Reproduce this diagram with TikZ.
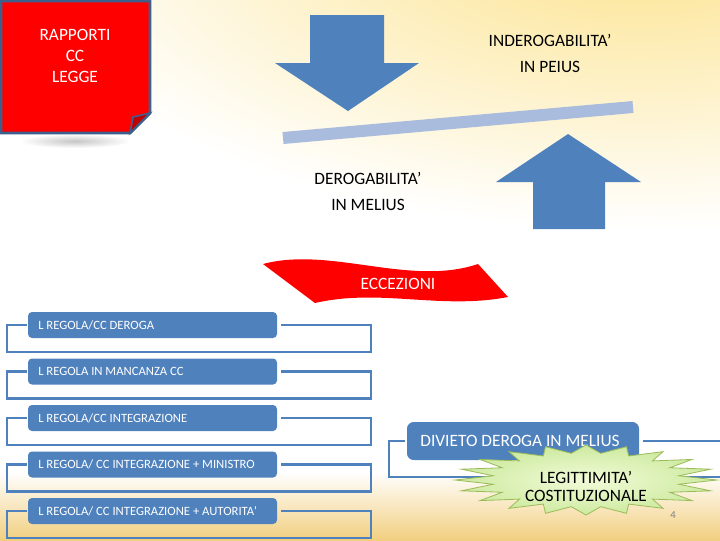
\documentclass[tikz,border=0pt]{standalone}
\usepackage{fontspec}
\setmainfont{Carlito}
\usepackage{tikz}
\usetikzlibrary{positioning}

\definecolor{slideblue}{HTML}{4F81BD}
\definecolor{barblue}{HTML}{A9BCDD}
\definecolor{notered}{HTML}{FF0000}
\definecolor{noteline}{HTML}{3D5F8C}
\definecolor{foldred}{HTML}{C00000}
\definecolor{burstfill}{HTML}{F2FBD8}
\definecolor{burstouter}{HTML}{CDEAA0}
\definecolor{burstedge}{HTML}{9BBB59}
\definecolor{sunyellow}{HTML}{FCE28A}
\definecolor{sandgold}{HTML}{F2CF80}

\tikzset{
	lbl/.style={font=\fontsize{13}{20}\selectfont, align=center, inner sep=0pt},
	regtxt/.style={font=\fontsize{9.5}{11}\selectfont, text=white, anchor=west, inner sep=0pt},
	regbox/.style={fill=slideblue, rounded corners=3pt},
	frame/.style={draw=slideblue, line width=2.2pt},
	fatarrow/.style={fill=slideblue},
	burst/.style={draw=burstedge, line width=0.6pt, inner color=burstfill, outer color=burstouter}
}

\begin{document}
\begin{tikzpicture}[x=0.75pt,y=-0.75pt]
	
	\useasboundingbox (0,0) rectangle (720,540);
	
	% background of the slide: white, warm glow top right and at the bottom
	\begin{scope}
		\clip (0,0) rectangle (720,540);
		\fill[white] (0,0) rectangle (720,540);
		\shade[inner color=sunyellow, outer color=white] (640,-70) ellipse (640 and 300);
		\shade[top color=white, bottom color=sandgold] (0,472) rectangle (720,540);
	\end{scope}
	
	%%%%%%%%%%%%%%%%%%%%%%%%%%%%%%%%%%%%%%%%%%%%%%%%%%%%%%%%%%%%%%
	% sticky note, top left
	\shade[inner color=gray!45, outer color=white] (75,141) ellipse (55 and 7);
	\filldraw[fill=notered, draw=noteline, line width=2.2pt]
		(1,1) -- (150,1) -- (150,113) -- (130,133) -- (1,133) -- cycle;
	\filldraw[fill=foldred, draw=noteline, line width=1.2pt]
		(150,113) -- (133,117) -- (130,133) -- cycle;
	\node[lbl, text=white, font=\fontsize{13}{16}\selectfont] (rapporti) at (75,56) {RAPPORTI\\CC\\LEGGE};
	
	%%%%%%%%%%%%%%%%%%%%%%%%%%%%%%%%%%%%%%%%%%%%%%%%%%%%%%%%%%%%%%
	% the lever: bar pressed from above and pushed from below
	\draw[barblue, line width=9pt] (283,138) -- (633,107);
	
	\fill[fatarrow] (310,15) -- (384,15) -- (384,63) -- (419,63) -- (348,111)
		-- (275,63) -- (310,63) -- cycle;
	\fill[fatarrow] (533,229) -- (605,229) -- (605,182) -- (641,182) -- (568,134)
		-- (496,182) -- (533,182) -- cycle;
	
	\node[lbl] (inderog) at (550,53.5) {INDEROGABILITA’\\IN PEIUS};
	\node[lbl] (derog) at (368,191.5) {DEROGABILITA’\\IN MELIUS};
	
	%%%%%%%%%%%%%%%%%%%%%%%%%%%%%%%%%%%%%%%%%%%%%%%%%%%%%%%%%%%%%%
	% wave banner
	\fill[notered] (263,264) .. controls (330,246) and (410,287) .. (478,264)
		-- (508,297) .. controls (440,310) and (380,288) .. (315,303) -- cycle;
	\node[lbl, text=white] (eccezioni) at (398,284) {ECCEZIONI};
	
	%%%%%%%%%%%%%%%%%%%%%%%%%%%%%%%%%%%%%%%%%%%%%%%%%%%%%%%%%%%%%%
	% list of the cases
	\foreach \i/\txt in {0/{L REGOLA/CC DEROGA},
		1/{L REGOLA IN MANCANZA CC},
		2/{L REGOLA/CC INTEGRAZIONE},
		3/{L REGOLA/ CC INTEGRAZIONE + MINISTRO},
		4/{L REGOLA/ CC INTEGRAZIONE + AUTORITA’}}
	{
		\pgfmathsetmacro\rowy{312+46.5*\i}
		\draw[frame] (27,\rowy+13) -- (7,\rowy+13) -- (7,\rowy+40) -- (371,\rowy+40)
			-- (371,\rowy+13) -- (281,\rowy+13);
		\fill[regbox] (28,\rowy) rectangle (277,\rowy+26);
		\node[regtxt] (reg\i) at (38,\rowy+13) {\txt};
	}
	
	%%%%%%%%%%%%%%%%%%%%%%%%%%%%%%%%%%%%%%%%%%%%%%%%%%%%%%%%%%%%%%
	% bottom right: ban and constitutional check
	\draw[frame] (405,441) -- (389,441) -- (389,477) -- (725,477);
	\draw[frame] (643,441) -- (725,441);
	\fill[regbox, rounded corners=5pt] (407,422) rectangle (639,460);
	\node[lbl, text=white] (divieto) at (520,441) {DIVIETO DEROGA IN MELIUS};
	
	\begin{scope}[shift={(586,480)}]
		\shadedraw[burst] (0:131 and 35)
			\foreach \a in {18,36,...,360} { -- (\a-9:94 and 27) -- (\a:131 and 35) } -- cycle;
	\end{scope}
	\node[lbl, font=\fontsize{13}{13.5}\selectfont] (legit) at (586,486) {LEGITTIMITA’\\COSTITUZIONALE};
	
	\node[font=\fontsize{8}{8}\selectfont, text=gray] (pagenum) at (673,515) {4};
	
\end{tikzpicture}
\end{document}
